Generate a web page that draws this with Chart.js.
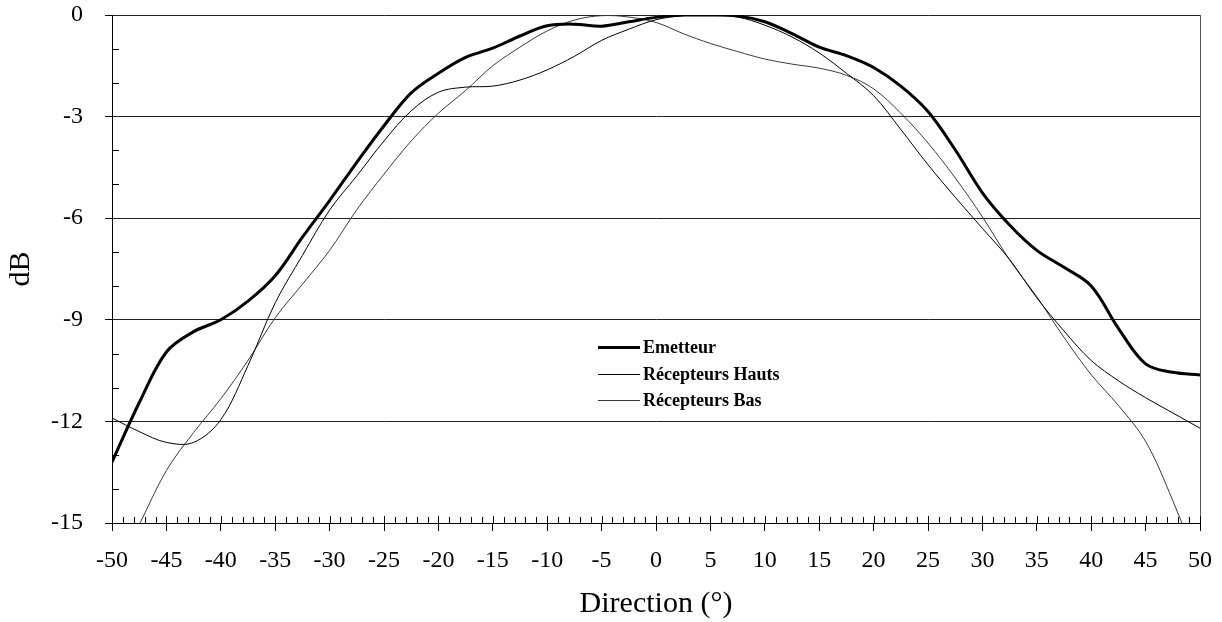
<!DOCTYPE html>
<html>
<head>
<meta charset="utf-8">
<script src="https://cdn.jsdelivr.net/npm/chart.js@4.4.1/dist/chart.umd.min.js"></script>
<style>
  body { margin: 0; background: #fff; }
</style>
</head>
<body>
<canvas id="chart" width="1222" height="622"></canvas>
<script>
// Directivity: Direction (deg) vs dB
const angles = [-50, -47.5, -45, -42.5, -40, -37.5, -35, -32.5, -30, -27.5, -25, -22.5, -20, -17.5, -15, -12.5, -10, -7.5, -5, -2.5,
    0, 2.5, 5, 7.5, 10, 12.5, 15, 17.5, 20, 22.5, 25, 27.5, 30, 32.5, 35, 37.5, 40, 42.5, 45, 47.5, 50];

const emetteur = [-13.2, -11.45, -9.95, -9.35, -9.0, -8.45, -7.7, -6.56, -5.48, -4.35, -3.27, -2.3, -1.72, -1.25, -0.98, -0.62, -0.32, -0.27, -0.33, -0.2,
    -0.07, 0, 0, -0.03, -0.2, -0.55, -0.95, -1.2, -1.55, -2.1, -2.85, -3.98, -5.25, -6.2, -6.95, -7.45, -8.0, -9.25, -10.3, -10.55, -10.63];

const recepteursHauts = [-11.9, -12.3, -12.62, -12.62, -11.95, -10.35, -8.5, -7.1, -5.76, -4.75, -3.72, -2.83, -2.28, -2.13, -2.1, -1.92, -1.62, -1.22, -0.75, -0.42,
    -0.14, -0.02, 0, -0.06, -0.3, -0.65, -1.12, -1.72, -2.38, -3.38, -4.42, -5.38, -6.3, -7.22, -8.35, -9.33, -10.2, -10.8, -11.3, -11.75, -12.2];

const recepteursBas = [-16.6, -15.05, -13.45, -12.33, -11.33, -10.2, -8.94, -7.95, -6.95, -5.75, -4.7, -3.72, -2.9, -2.23, -1.5, -0.95, -0.47, -0.15, -0.02, -0.06,
    -0.22, -0.55, -0.84, -1.08, -1.3, -1.45, -1.57, -1.78, -2.18, -2.9, -3.78, -4.81, -5.96, -7.23, -8.32, -9.52, -10.62, -11.53, -12.59, -14.34, -16.4];

const seriesNames = ['Emetteur', 'Récepteurs Hauts', 'Récepteurs Bas'];
const seriesWidths = [3, 1, 1];
const seriesColors = ['#000000', '#000000', '#3a3a3a'];

function toPoints(values) {
    return angles.map((a, i) => ({ x: a, y: values[i] }));
}

Chart.defaults.font.family = '"Liberation Serif", "Times New Roman", serif';
Chart.defaults.color = '#000';

// small inner ticks on both axes (every 1 unit)
const minorTicks = {
    id: 'minorTicks',
    afterDraw(chart) {
        const { ctx, chartArea, scales: { x, y } } = chart;
        ctx.save();
        ctx.strokeStyle = '#000';
        ctx.lineWidth = 1;
        ctx.beginPath();
        for (let v = x.min; v <= x.max; v++) {
            const px = Math.round(x.getPixelForValue(v)) + 0.5;
            const len = v % 5 === 0 ? 7 : 6;
            ctx.moveTo(px, chartArea.bottom);
            ctx.lineTo(px, chartArea.bottom - len);
        }
        for (let v = y.max; v >= y.min; v--) {
            if (v % 3 === 0) continue;
            const py = Math.round(y.getPixelForValue(v)) + 0.5;
            ctx.moveTo(chartArea.left, py);
            ctx.lineTo(chartArea.left + 7, py);
        }
        ctx.stroke();
        ctx.restore();
    }
};

// legend sitting inside the plot area
const innerLegend = {
    id: 'innerLegend',
    afterDraw(chart) {
        const { ctx, chartArea } = chart;
        const left = chartArea.left + 486;
        const top = chartArea.top + 332;
        const rowGap = 26.5;
        ctx.save();
        ctx.font = 'bold 18px "Liberation Serif", serif';
        ctx.textBaseline = 'middle';
        ctx.fillStyle = '#000';
        chart.data.datasets.forEach((ds, i) => {
            const yy = Math.round(top + i * rowGap) + (ds.borderWidth % 2 ? 0.5 : 0);
            ctx.beginPath();
            ctx.strokeStyle = ds.borderColor;
            ctx.lineWidth = ds.borderWidth;
            ctx.moveTo(left, yy);
            ctx.lineTo(left + 42, yy);
            ctx.stroke();
            ctx.fillText(ds.label, left + 45, yy + 1);
        });
        ctx.restore();
    }
};

new Chart(document.getElementById('chart'), {
    type: 'line',
    data: {
        datasets: [emetteur, recepteursHauts, recepteursBas].map((vals, i) => ({
            label: seriesNames[i],
            data: toPoints(vals),
            borderColor: seriesColors[i],
            borderWidth: seriesWidths[i],
            pointRadius: 0,
            tension: 0.35,
            fill: false
        }))
    },
    options: {
        responsive: false,
        animation: false,
        devicePixelRatio: 1,
        layout: { padding: { top: 15, right: 22, left: 0, bottom: 0 } },
        plugins: {
            legend: { display: false },
            tooltip: { enabled: false }
        },
        scales: {
            x: {
                type: 'linear',
                min: -50,
                max: 50,
                afterFit: (scale) => {
                    scale.height = 99;
                    scale.paddingLeft = 0;
                    scale.paddingRight = 0;
                },
                ticks: { stepSize: 5, font: { size: 24 }, padding: 15, maxRotation: 0 },
                grid: {
                    drawOnChartArea: true,
                    color: (c) => (c.tick && c.tick.value === 50 ? '#555' : 'rgba(0,0,0,0)'),
                    tickColor: '#000',
                    tickLength: 8
                },
                border: { color: '#000', width: 1 },
                title: { display: true, text: 'Direction (°)', font: { size: 30 }, padding: { top: 0, bottom: 0 } }
            },
            y: {
                min: -15,
                max: 0,
                afterFit: (scale) => {
                    scale.width = 112;
                    scale.paddingTop = 0;
                    scale.paddingBottom = 0;
                },
                ticks: { stepSize: 3, font: { size: 24 }, padding: 22 },
                grid: { color: '#222', tickColor: '#000', tickLength: 7 },
                border: { color: '#000', width: 1 },
                title: { display: true, text: 'dB', font: { size: 30 }, padding: { top: 3, bottom: 0 } }
            }
        }
    },
    plugins: [minorTicks, innerLegend]
});
</script>
</body>
</html>
